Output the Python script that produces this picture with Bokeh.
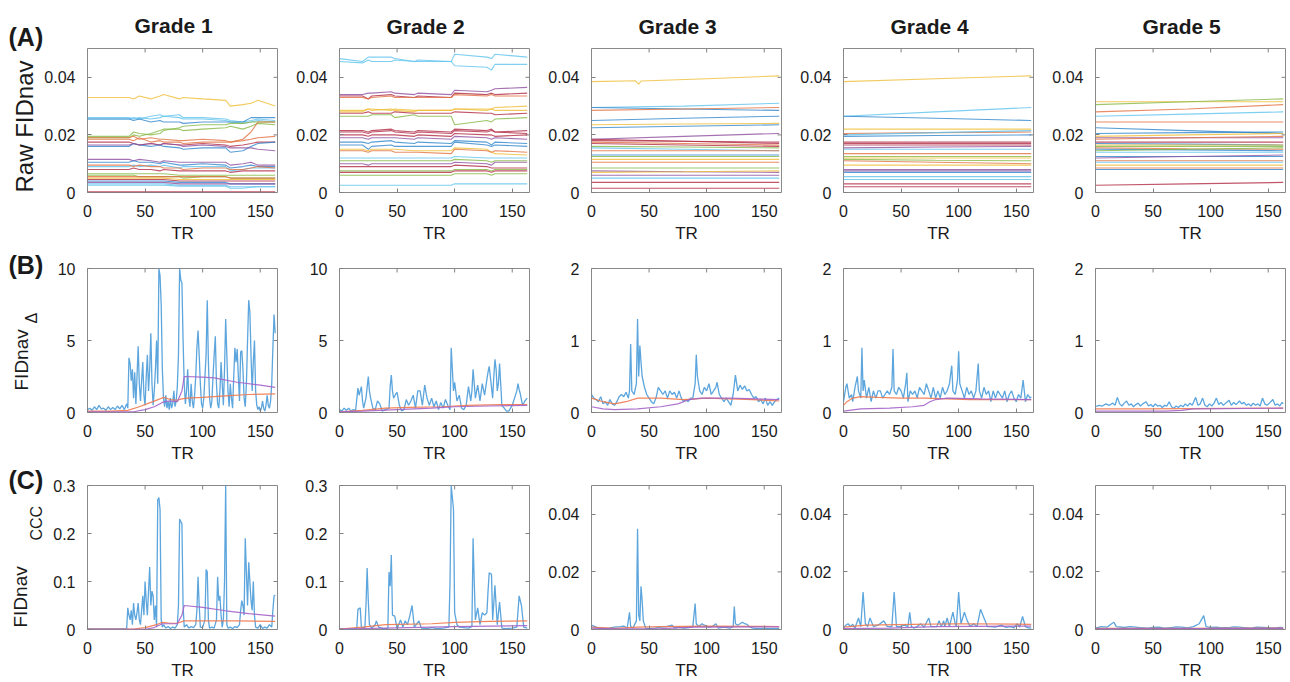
from bokeh.plotting import figure
from bokeh.layouts import gridplot
from bokeh.models import FixedTicker, CustomJSTickFormatter, Range1d, Title
from bokeh.embed import file_html
from bokeh.resources import INLINE

FONT = "Liberation Sans"
X_END = 165
GRADES = ["Grade 1", "Grade 2", "Grade 3", "Grade 4", "Grade 5"]
ROW_TAGS = ["(A)", "(B)", "(C)"]
X_TICKS = [0, 50, 100, 150]

Y_END = [[0.05] * 5, [10, 10, 2, 2, 2], [0.3, 0.3, 0.05, 0.05, 0.05]]
Y_TICKS = [
    [[0, 0.02, 0.04]] * 5,
    [[0, 5, 10], [0, 5, 10], [0, 1, 2], [0, 1, 2], [0, 1, 2]],
    [[0, 0.1, 0.2, 0.3], [0, 0.1, 0.2, 0.3], [0, 0.02, 0.04], [0, 0.02, 0.04], [0, 0.02, 0.04]],
]

PAL = {"b": "#2f86cc", "o": "#e2703f", "y": "#efbd35", "p": "#8e4f9e",
       "g": "#84b844", "c": "#5fc3ee", "r": "#b12a45"}

# ---------------- Row A : raw FIDnav (one line per channel) ----------------
A1_T = [0, 36, 40, 45, 55, 63, 66, 80, 83, 100, 120, 124, 135, 142, 148, 163]
A1_COLORS = "yccbggoorbppbcorgyrbcpcrgo"
A1_LINES = [
    [0.033, 0.033, 0.0325, 0.0335, 0.0325, 0.0335, 0.034, 0.0325, 0.033, 0.0325, 0.032, 0.030, 0.0305, 0.031, 0.032, 0.030],
    [0.0255, 0.0255, 0.026, 0.0255, 0.0265, 0.027, 0.0265, 0.027, 0.026, 0.026, 0.0255, 0.025, 0.0245, 0.025, 0.0255, 0.025],
    [0.026, 0.026, 0.0255, 0.026, 0.0255, 0.026, 0.0265, 0.026, 0.0255, 0.0255, 0.025, 0.0245, 0.024, 0.0245, 0.025, 0.0245],
    [0.0255, 0.0255, 0.025, 0.0255, 0.0245, 0.025, 0.0245, 0.0245, 0.024, 0.0245, 0.0245, 0.0245, 0.0245, 0.026, 0.026, 0.026],
    [0.0195, 0.0195, 0.021, 0.0205, 0.020, 0.0205, 0.0215, 0.0225, 0.023, 0.0235, 0.0235, 0.024, 0.024, 0.0245, 0.0245, 0.0245],
    [0.019, 0.019, 0.020, 0.0195, 0.0205, 0.0215, 0.022, 0.022, 0.0215, 0.022, 0.0225, 0.023, 0.022, 0.023, 0.024, 0.0235],
    [0.019, 0.019, 0.0195, 0.0185, 0.019, 0.0185, 0.0185, 0.018, 0.018, 0.0185, 0.018, 0.0175, 0.0185, 0.021, 0.0245, 0.0245],
    [0.0185, 0.0185, 0.018, 0.019, 0.0175, 0.018, 0.0175, 0.0175, 0.017, 0.0175, 0.0175, 0.0175, 0.018, 0.0185, 0.019, 0.0195],
    [0.0175, 0.0175, 0.017, 0.0165, 0.017, 0.0165, 0.017, 0.0165, 0.0165, 0.017, 0.0165, 0.016, 0.0165, 0.017, 0.0175, 0.0175],
    [0.016, 0.016, 0.017, 0.0165, 0.016, 0.0165, 0.016, 0.0155, 0.015, 0.0155, 0.0155, 0.014, 0.0145, 0.016, 0.017, 0.0175],
    [0.0165, 0.0165, 0.017, 0.0165, 0.017, 0.0165, 0.017, 0.0165, 0.016, 0.0165, 0.016, 0.0155, 0.0155, 0.0155, 0.015, 0.0145],
    [0.0115, 0.0115, 0.011, 0.0115, 0.011, 0.0105, 0.011, 0.0105, 0.0105, 0.0105, 0.0105, 0.0095, 0.010, 0.0105, 0.0095, 0.0095],
    [0.0105, 0.0105, 0.011, 0.0105, 0.0105, 0.010, 0.0105, 0.0095, 0.0095, 0.010, 0.0095, 0.0085, 0.009, 0.0095, 0.009, 0.009],
    [0.009, 0.009, 0.0095, 0.009, 0.0095, 0.009, 0.0095, 0.0085, 0.009, 0.009, 0.009, 0.0075, 0.008, 0.0085, 0.0085, 0.0085],
    [0.0095, 0.0095, 0.009, 0.0095, 0.009, 0.009, 0.0085, 0.0085, 0.008, 0.0085, 0.0085, 0.008, 0.008, 0.0085, 0.009, 0.0085],
    [0.008, 0.008, 0.0085, 0.008, 0.008, 0.0075, 0.008, 0.0075, 0.0075, 0.0075, 0.0075, 0.007, 0.0075, 0.0075, 0.0075, 0.0075],
    [0.006, 0.006, 0.006, 0.0055, 0.0055, 0.0055, 0.0055, 0.0055, 0.005, 0.0055, 0.0055, 0.005, 0.005, 0.005, 0.005, 0.005],
    [0.005, 0.005, 0.005, 0.005, 0.005, 0.005, 0.005, 0.0045, 0.0045, 0.0045, 0.0045, 0.0045, 0.0045, 0.0045, 0.0045, 0.0045],
    [0.0045, 0.0045, 0.0045, 0.0045, 0.0045, 0.0045, 0.0045, 0.004, 0.004, 0.004, 0.004, 0.004, 0.004, 0.004, 0.004, 0.004],
    [0.004, 0.004, 0.004, 0.004, 0.004, 0.004, 0.004, 0.0035, 0.0035, 0.0035, 0.0035, 0.003, 0.003, 0.003, 0.003, 0.003],
    [0.003, 0.003, 0.003, 0.003, 0.003, 0.003, 0.003, 0.0025, 0.0025, 0.0025, 0.0025, 0.002, 0.002, 0.002, 0.002, 0.002],
    [0.0035, 0.0035, 0.0035, 0.0035, 0.0035, 0.0035, 0.0035, 0.003, 0.003, 0.003, 0.003, 0.003, 0.003, 0.003, 0.003, 0.003],
    [0.0025, 0.0025, 0.0025, 0.0025, 0.0025, 0.0025, 0.0025, 0.0022, 0.0022, 0.0022, 0.0022, 0.0015, 0.0015, 0.0018, 0.002, 0.002],
    [0.0002, 0.0002, 0.0002, 0.0002, 0.0002, 0.0002, 0.0002, 0.0002, 0.0002, 0.0002, 0.0002, 0.0002, 0.0002, 0.0002, 0.0002, 0.0002],
    [0.0065, 0.0065, 0.0065, 0.0065, 0.0065, 0.0065, 0.0065, 0.006, 0.006, 0.006, 0.006, 0.006, 0.006, 0.006, 0.006, 0.006],
    [0.0055, 0.0055, 0.0055, 0.0055, 0.0055, 0.0055, 0.0055, 0.0055, 0.0055, 0.0055, 0.0055, 0.005, 0.005, 0.005, 0.005, 0.005],
]

A2_T = [0, 20, 25, 28, 45, 48, 65, 68, 97, 100, 128, 132, 135, 163]
A2_COLORS = "ccproyyrgrrrpbbyocgprgrgc"
A2_LINES = [
    [0.0465, 0.0455, 0.047, 0.047, 0.047, 0.0465, 0.0455, 0.046, 0.0455, 0.048, 0.047, 0.0465, 0.048, 0.047],
    [0.0455, 0.045, 0.046, 0.0455, 0.0455, 0.046, 0.0455, 0.0455, 0.0455, 0.044, 0.0435, 0.0425, 0.0445, 0.0445],
    [0.034, 0.034, 0.0345, 0.0345, 0.035, 0.0345, 0.034, 0.0345, 0.034, 0.0355, 0.035, 0.0355, 0.036, 0.0365],
    [0.0335, 0.0335, 0.0325, 0.0335, 0.034, 0.0335, 0.033, 0.0335, 0.033, 0.0345, 0.034, 0.0345, 0.034, 0.0345],
    [0.033, 0.033, 0.0325, 0.033, 0.0335, 0.033, 0.033, 0.033, 0.033, 0.034, 0.0335, 0.034, 0.0335, 0.0335],
    [0.0285, 0.0285, 0.029, 0.0285, 0.029, 0.0285, 0.028, 0.0285, 0.0285, 0.029, 0.0285, 0.029, 0.0285, 0.0285],
    [0.028, 0.028, 0.029, 0.029, 0.0285, 0.029, 0.0285, 0.0285, 0.0285, 0.029, 0.029, 0.029, 0.0295, 0.030],
    [0.0275, 0.0275, 0.028, 0.0275, 0.0275, 0.028, 0.0275, 0.0275, 0.0275, 0.028, 0.0275, 0.0275, 0.027, 0.0275],
    [0.0265, 0.0265, 0.0265, 0.027, 0.027, 0.026, 0.027, 0.0265, 0.0265, 0.0235, 0.025, 0.0245, 0.0255, 0.026],
    [0.0215, 0.0215, 0.021, 0.0215, 0.022, 0.0215, 0.021, 0.0215, 0.021, 0.022, 0.0215, 0.022, 0.021, 0.0205],
    [0.021, 0.021, 0.0205, 0.021, 0.0215, 0.021, 0.0205, 0.021, 0.0205, 0.0215, 0.021, 0.0215, 0.021, 0.0215],
    [0.020, 0.020, 0.0195, 0.020, 0.020, 0.020, 0.0195, 0.020, 0.0195, 0.0205, 0.020, 0.020, 0.0195, 0.020],
    [0.019, 0.019, 0.0185, 0.019, 0.019, 0.019, 0.0185, 0.019, 0.0185, 0.0195, 0.019, 0.0185, 0.019, 0.0185],
    [0.0175, 0.0175, 0.017, 0.0175, 0.018, 0.0175, 0.017, 0.0175, 0.017, 0.018, 0.0175, 0.0165, 0.0175, 0.017],
    [0.0165, 0.0165, 0.015, 0.016, 0.0165, 0.016, 0.016, 0.016, 0.016, 0.0175, 0.0165, 0.016, 0.0165, 0.016],
    [0.015, 0.015, 0.0145, 0.015, 0.015, 0.015, 0.0145, 0.0145, 0.0145, 0.0155, 0.015, 0.014, 0.0135, 0.013],
    [0.0145, 0.0145, 0.014, 0.0145, 0.0145, 0.014, 0.014, 0.014, 0.0135, 0.015, 0.0145, 0.014, 0.0145, 0.014],
    [0.012, 0.012, 0.012, 0.012, 0.012, 0.012, 0.012, 0.012, 0.012, 0.0125, 0.012, 0.012, 0.012, 0.012],
    [0.011, 0.011, 0.011, 0.011, 0.011, 0.011, 0.011, 0.011, 0.011, 0.0115, 0.011, 0.0105, 0.011, 0.011],
    [0.010, 0.010, 0.0095, 0.010, 0.010, 0.010, 0.010, 0.010, 0.010, 0.0105, 0.010, 0.0095, 0.0105, 0.0105],
    [0.009, 0.009, 0.009, 0.009, 0.009, 0.009, 0.009, 0.009, 0.009, 0.0095, 0.009, 0.0085, 0.0085, 0.0085],
    [0.0075, 0.0075, 0.0075, 0.0075, 0.0075, 0.0075, 0.0075, 0.0075, 0.0075, 0.008, 0.008, 0.0075, 0.008, 0.008],
    [0.007, 0.007, 0.007, 0.007, 0.007, 0.007, 0.007, 0.007, 0.007, 0.0075, 0.0075, 0.007, 0.0075, 0.0075],
    [0.006, 0.006, 0.006, 0.006, 0.006, 0.006, 0.006, 0.006, 0.006, 0.0065, 0.0065, 0.006, 0.0065, 0.0065],
    [0.0025, 0.0025, 0.0025, 0.0025, 0.0025, 0.0025, 0.0025, 0.0025, 0.0025, 0.003, 0.003, 0.003, 0.003, 0.003],
]

# rows A3-A5: nearly straight drifts, values at TR 0, 80, 163
A_T3 = [0, 80, 163]
A3_COLORS = "cbobybprrorgcobgyogpypcrr"
A3_LINES = [
    [0.0295, 0.030, 0.031], [0.0295, 0.029, 0.0285], [0.0285, 0.029, 0.0295], [0.025, 0.0258, 0.0265],
    [0.0235, 0.0238, 0.024], [0.0225, 0.023, 0.0235], [0.0185, 0.0195, 0.0205], [0.0185, 0.0178, 0.017],
    [0.018, 0.0178, 0.0175], [0.0175, 0.017, 0.0165], [0.017, 0.0165, 0.016], [0.016, 0.0158, 0.0155],
    [0.0155, 0.015, 0.0145], [0.0145, 0.0145, 0.0145], [0.013, 0.013, 0.013], [0.0125, 0.0125, 0.0125],
    [0.0115, 0.0115, 0.0115], [0.0105, 0.0105, 0.0105], [0.0085, 0.0085, 0.0085], [0.0075, 0.0072, 0.007],
    [0.007, 0.0072, 0.0075], [0.006, 0.006, 0.006], [0.005, 0.005, 0.005], [0.0035, 0.0035, 0.0035],
    [0.0015, 0.0015, 0.0015],
]
A3_YELLOW = [(0, 0.0385), (38, 0.0388), (41, 0.0376), (43, 0.0387), (100, 0.0395), (163, 0.0405)]

A4_COLORS = "ycbyocbrrrpcogygoyppbccrr"
A4_LINES = [
    [0.0385, 0.0395, 0.0405], [0.0265, 0.028, 0.0295], [0.0265, 0.0258, 0.025], [0.022, 0.022, 0.022],
    [0.0205, 0.0208, 0.021], [0.020, 0.0208, 0.0215], [0.0195, 0.0198, 0.020], [0.0175, 0.0175, 0.0175],
    [0.017, 0.017, 0.017], [0.0165, 0.0165, 0.0165], [0.0155, 0.0158, 0.016], [0.015, 0.015, 0.015],
    [0.0135, 0.0135, 0.0135], [0.0125, 0.0125, 0.0125], [0.012, 0.012, 0.012], [0.0115, 0.0112, 0.011],
    [0.011, 0.0105, 0.010], [0.0095, 0.0095, 0.0095], [0.008, 0.008, 0.008], [0.0075, 0.0075, 0.0075],
    [0.007, 0.007, 0.007], [0.0055, 0.0055, 0.0055], [0.0045, 0.0045, 0.0045], [0.003, 0.003, 0.003],
    [0.002, 0.002, 0.002],
]

A5_COLORS = "ygocobbyporbygobgcbpocybor"
A5_LINES = [
    [0.0315, 0.0315, 0.0315], [0.0305, 0.0315, 0.0325], [0.028, 0.029, 0.0305], [0.0265, 0.0272, 0.028],
    [0.0245, 0.0245, 0.0245], [0.0225, 0.0215, 0.0205], [0.0205, 0.0208, 0.021], [0.0195, 0.020, 0.0205],
    [0.019, 0.019, 0.019], [0.0185, 0.019, 0.0195], [0.0175, 0.0175, 0.0175], [0.017, 0.0168, 0.0165],
    [0.0165, 0.0165, 0.0165], [0.016, 0.016, 0.016], [0.0155, 0.0152, 0.015], [0.015, 0.0148, 0.0145],
    [0.0145, 0.015, 0.0155], [0.014, 0.014, 0.014], [0.0125, 0.0125, 0.0125], [0.012, 0.0125, 0.013],
    [0.011, 0.011, 0.011], [0.0105, 0.0105, 0.0105], [0.0095, 0.0095, 0.0095], [0.008, 0.008, 0.008],
    [0.0085, 0.0085, 0.0085], [0.0025, 0.003, 0.0035],
]

# ---------------- Row B : FIDnav delta ----------------
B1_BLUE = [(0,0.2),(2,0.3),(4,0.15),(6,0.4),(8,0.2),(10,0.5),(12,0.25),(14,0.3),(16,0.15),(18,0.4),(20,0.2),(22,0.35),(24,0.2),(26,0.45),(28,0.25),(30,0.5),(32,0.2),(34,0.6),(35,0.3),(36,3.8),(37,3.4),(38,2.2),(39,3.0),(40,1.0),(41,2.8),(42,0.6),(43,2.5),(44,4.6),(45,2.0),(46,0.8),(47,2.2),(48,3.5),(49,1.2),(50,0.5),(51,2.5),(52,4.0),(53,1.5),(54,3.0),(55,5.5),(56,2.0),(57,0.5),(58,1.5),(59,3.0),(60,5.0),(61,2.0),(62,10.0),(63,9.5),(64,7.5),(65,3.0),(66,1.0),(67,0.4),(68,1.2),(69,0.3),(70,0.8),(71,0.2),(72,1.0),(73,0.3),(74,0.6),(75,1.5),(76,0.4),(77,0.8),(78,1.8),(79,4.0),(80,10.0),(81,9.2),(82,9.0),(83,5.0),(84,2.0),(85,0.6),(86,1.5),(87,3.0),(88,1.0),(89,0.4),(90,2.0),(91,0.8),(92,0.3),(93,1.2),(94,2.5),(95,4.5),(96,5.7),(97,4.0),(98,2.0),(99,0.6),(100,0.3),(101,1.0),(102,2.5),(103,4.0),(104,7.8),(105,3.5),(106,1.0),(107,0.3),(108,0.8),(109,2.5),(110,4.0),(111,5.3),(112,2.0),(113,0.6),(114,0.3),(115,1.5),(116,3.5),(117,2.0),(118,0.5),(119,3.0),(120,6.5),(121,4.0),(122,1.5),(123,0.4),(124,2.0),(125,1.0),(126,0.3),(127,2.5),(128,4.5),(129,3.5),(130,4.4),(131,2.5),(132,0.8),(133,4.2),(134,4.3),(135,3.0),(136,1.0),(137,0.4),(138,2.0),(139,5.0),(140,7.8),(141,7.0),(142,4.0),(143,1.5),(144,3.5),(145,5.0),(146,1.5),(147,0.5),(148,0.2),(149,0.4),(150,0.1),(151,0.3),(152,0.8),(153,0.3),(154,0.1),(155,0.5),(156,1.2),(157,0.5),(158,0.3),(159,0.8),(160,2.0),(161,4.5),(162,6.8),(163,5.5)]
B1_ORANGE = [(0,0.1),(20,0.1),(35,0.15),(45,0.4),(55,0.7),(63,0.95),(66,1.05),(72,0.9),(78,0.85),(82,0.95),(86,1.0),(100,1.05),(120,1.15),(140,1.25),(163,1.3)]
B1_PURPLE = [(0,0.05),(40,0.05),(50,0.2),(58,0.4),(65,0.7),(70,0.8),(78,0.75),(82,1.5),(84,2.5),(100,2.45),(110,2.4),(130,2.1),(150,1.9),(163,1.75)]

B2_BLUE = [(0,0.2),(2,0.1),(4,0.3),(6,0.15),(8,0.3),(10,0.1),(12,0.2),(14,0.15),(16,1.7),(17,1.2),(18,1.5),(19,1.8),(20,0.8),(21,0.3),(23,1.0),(25,2.5),(26,1.5),(27,1.0),(29,0.3),(31,0.2),(33,0.8),(35,0.6),(37,0.1),(40,0.2),(43,0.3),(44,1.8),(45,2.6),(46,1.5),(47,1.0),(49,1.3),(50,1.4),(52,0.5),(54,0.1),(56,0.2),(58,0.9),(60,0.5),(62,0.8),(64,1.2),(66,0.3),(68,1.5),(70,1.5),(72,0.5),(74,1.9),(76,1.0),(78,0.5),(80,1.0),(82,0.4),(84,0.8),(86,0.2),(88,0.7),(90,0.3),(92,0.9),(94,0.5),(96,0.2),(97,4.5),(98,3.0),(99,1.5),(100,2.1),(102,0.8),(104,1.2),(106,0.3),(108,0.2),(110,0.5),(112,1.8),(114,0.8),(115,1.5),(116,3.0),(117,2.0),(118,1.0),(120,1.9),(122,0.8),(124,2.0),(126,1.2),(128,2.3),(129,2.8),(130,3.2),(131,2.5),(133,1.0),(134,2.5),(135,3.7),(136,3.0),(137,1.5),(138,2.0),(139,3.4),(140,2.0),(141,0.5),(143,0.3),(145,0.1),(147,0.1),(150,0.5),(152,1.0),(154,1.5),(155,2.0),(156,1.6),(157,1.3),(159,0.5),(161,0.8),(163,1.0)]
B2_ORANGE = [(0,0.05),(20,0.15),(40,0.3),(60,0.35),(90,0.4),(110,0.5),(140,0.55),(163,0.55)]
B2_PURPLE = [(0,0.05),(20,0.1),(50,0.2),(80,0.3),(100,0.4),(130,0.45),(163,0.5)]

B3_BLUE = [(0,0.25),(2,0.2),(4,0.18),(6,0.15),(8,0.22),(10,0.12),(12,0.15),(14,0.1),(16,0.18),(18,0.12),(20,0.1),(22,0.15),(24,0.22),(26,0.25),(28,0.22),(30,0.28),(32,0.2),(33,0.3),(34,0.95),(35,0.3),(37,0.25),(39,0.4),(40,1.3),(41,0.5),(42,0.93),(43,0.7),(44,0.5),(46,0.35),(48,0.25),(50,0.2),(52,0.15),(54,0.12),(56,0.2),(58,0.35),(60,0.3),(62,0.25),(64,0.3),(66,0.2),(68,0.3),(70,0.25),(72,0.28),(74,0.2),(76,0.3),(78,0.2),(80,0.15),(82,0.18),(84,0.15),(86,0.2),(88,0.2),(90,0.4),(91,0.8),(92,0.5),(94,0.3),(96,0.25),(98,0.35),(100,0.3),(102,0.4),(104,0.25),(106,0.3),(108,0.35),(109,0.42),(111,0.25),(113,0.2),(115,0.15),(117,0.2),(119,0.15),(121,0.1),(123,0.25),(125,0.52),(127,0.3),(129,0.38),(131,0.32),(133,0.37),(135,0.3),(137,0.32),(139,0.25),(141,0.2),(143,0.22),(145,0.15),(147,0.18),(149,0.12),(151,0.2),(153,0.1),(155,0.15),(157,0.1),(159,0.15),(161,0.18),(163,0.2)]
B3_ORANGE = [(0,0.2),(10,0.15),(20,0.12),(30,0.15),(40,0.2),(60,0.2),(80,0.18),(100,0.2),(120,0.19),(140,0.18),(163,0.16)]
B3_PURPLE = [(0,0.08),(10,0.05),(20,0.04),(40,0.05),(60,0.08),(75,0.12),(85,0.18),(95,0.2),(120,0.2),(163,0.18)]

B4_BLUE = [(0,0.15),(2,0.35),(3,0.4),(5,0.2),(7,0.25),(8,0.15),(10,0.35),(12,0.5),(13,0.3),(15,0.2),(16,0.9),(17,0.3),(18,0.45),(20,0.2),(22,0.35),(24,0.15),(26,0.3),(28,0.2),(30,0.3),(32,0.3),(34,0.2),(36,0.25),(38,0.3),(40,0.25),(42,0.35),(43,0.88),(44,0.3),(46,0.25),(48,0.35),(50,0.3),(52,0.2),(54,0.4),(55,0.55),(56,0.15),(58,0.3),(60,0.25),(62,0.3),(64,0.2),(66,0.35),(68,0.3),(70,0.25),(72,0.4),(74,0.3),(76,0.2),(78,0.35),(80,0.2),(82,0.3),(84,0.2),(86,0.35),(88,0.25),(90,0.3),(92,0.4),(94,0.65),(95,0.3),(97,0.25),(99,0.45),(100,0.85),(101,0.4),(103,0.3),(105,0.2),(107,0.35),(109,0.25),(111,0.3),(113,0.2),(115,0.3),(117,0.68),(118,0.3),(120,0.2),(122,0.35),(124,0.25),(126,0.3),(128,0.15),(130,0.3),(132,0.2),(134,0.3),(136,0.25),(138,0.2),(140,0.3),(142,0.15),(144,0.25),(146,0.3),(148,0.2),(150,0.15),(152,0.25),(154,0.2),(156,0.45),(158,0.15),(160,0.25),(162,0.2),(163,0.22)]
B4_ORANGE = [(0,0.1),(3,0.15),(8,0.2),(15,0.22),(30,0.21),(50,0.2),(70,0.2),(90,0.19),(110,0.18),(163,0.18)]
B4_PURPLE = [(0,0.02),(5,0.03),(15,0.05),(40,0.06),(60,0.08),(70,0.1),(75,0.15),(80,0.18),(90,0.2),(120,0.19),(163,0.18)]

B5_BLUE = [(0,0.08),(3,0.1),(6,0.09),(9,0.12),(12,0.1),(15,0.13),(17,0.1),(19,0.21),(21,0.12),(23,0.09),(25,0.13),(27,0.16),(29,0.1),(31,0.12),(33,0.08),(35,0.11),(37,0.13),(39,0.09),(41,0.12),(44,0.15),(46,0.09),(48,0.11),(50,0.08),(52,0.12),(54,0.09),(56,0.1),(58,0.07),(60,0.1),(62,0.09),(64,0.15),(66,0.08),(68,0.06),(70,0.09),(72,0.07),(74,0.1),(76,0.08),(78,0.12),(80,0.09),(82,0.13),(84,0.1),(87,0.21),(89,0.1),(91,0.12),(93,0.2),(95,0.1),(97,0.08),(99,0.12),(101,0.09),(103,0.13),(105,0.2),(107,0.11),(109,0.14),(111,0.1),(113,0.13),(116,0.17),(118,0.1),(120,0.14),(122,0.11),(125,0.16),(127,0.12),(129,0.14),(131,0.1),(133,0.12),(135,0.09),(137,0.13),(139,0.1),(141,0.12),(143,0.09),(145,0.2),(147,0.12),(149,0.1),(151,0.13),(154,0.18),(156,0.1),(158,0.12),(160,0.09),(162,0.14),(163,0.12)]
B5_ORANGE = [(0,0.05),(40,0.05),(80,0.055),(163,0.06)]
B5_PURPLE = [(0,0.02),(60,0.02),(75,0.03),(85,0.05),(163,0.06)]

# ---------------- Row C : FIDnav CCC ----------------
C1_BLUE = [(0,0.001),(10,0.001),(20,0.0015),(30,0.001),(34,0.001),(35,0.045),(36,0.03),(37,0.02),(38,0.04),(39,0.01),(40,0.055),(41,0.03),(42,0.02),(43,0.035),(44,0.055),(45,0.02),(46,0.01),(47,0.04),(48,0.07),(49,0.03),(50,0.1),(51,0.06),(52,0.03),(53,0.08),(54,0.13),(55,0.05),(56,0.08),(57,0.07),(58,0.02),(59,0.05),(60,0.005),(61,0.27),(62,0.275),(63,0.25),(64,0.02),(65,0.005),(66,0.01),(68,0.003),(70,0.006),(72,0.002),(74,0.005),(76,0.003),(78,0.01),(79,0.05),(80,0.23),(81,0.225),(82,0.22),(83,0.05),(84,0.005),(86,0.01),(88,0.003),(90,0.006),(92,0.004),(94,0.01),(95,0.04),(96,0.11),(97,0.05),(98,0.005),(100,0.004),(102,0.02),(103,0.125),(104,0.12),(105,0.02),(106,0.003),(108,0.005),(110,0.003),(112,0.02),(113,0.11),(114,0.06),(115,0.07),(116,0.03),(117,0.005),(118,0.02),(119,0.1),(120,0.3),(121,0.01),(122,0.003),(124,0.005),(126,0.002),(128,0.006),(130,0.004),(132,0.01),(133,0.04),(134,0.06),(135,0.05),(136,0.03),(137,0.19),(138,0.12),(139,0.05),(140,0.14),(141,0.1),(142,0.06),(143,0.04),(144,0.1),(145,0.03),(146,0.005),(148,0.003),(150,0.01),(152,0.002),(154,0.005),(156,0.003),(158,0.01),(160,0.005),(161,0.04),(162,0.07),(163,0.072)]
C1_ORANGE = [(0,0.001),(40,0.001),(50,0.004),(60,0.01),(65,0.015),(72,0.013),(78,0.013),(84,0.018),(100,0.018),(130,0.018),(163,0.017)]
C1_PURPLE = [(0,0.0005),(50,0.0005),(58,0.004),(65,0.012),(78,0.012),(82,0.03),(84,0.05),(100,0.046),(120,0.039),(140,0.033),(163,0.028)]

C2_BLUE = [(0,0.001),(8,0.001),(15,0.002),(16,0.042),(18,0.045),(19,0.005),(22,0.003),(23,0.05),(24,0.128),(25,0.06),(26,0.01),(28,0.003),(31,0.01),(32,0.018),(34,0.005),(38,0.002),(42,0.002),(43,0.12),(44,0.09),(45,0.155),(46,0.03),(48,0.028),(50,0.002),(53,0.02),(55,0.005),(57,0.018),(59,0.01),(61,0.028),(63,0.05),(65,0.005),(69,0.018),(71,0.003),(76,0.002),(80,0.004),(85,0.002),(90,0.003),(95,0.005),(96,0.1),(97,0.3),(99,0.25),(100,0.035),(102,0.01),(104,0.005),(108,0.004),(112,0.003),(115,0.006),(116,0.19),(117,0.1),(118,0.02),(120,0.045),(122,0.01),(124,0.035),(126,0.03),(128,0.035),(129,0.08),(130,0.118),(132,0.115),(133,0.02),(135,0.092),(136,0.05),(137,0.01),(139,0.057),(141,0.003),(145,0.002),(150,0.003),(154,0.005),(156,0.07),(158,0.05),(160,0.005),(163,0.003)]
C2_ORANGE = [(0,0.001),(20,0.005),(40,0.01),(80,0.012),(100,0.015),(130,0.017),(163,0.018)]
C2_PURPLE = [(0,0.001),(40,0.003),(100,0.006),(163,0.008)]

C3_BLUE = [(0,0.0015),(2,0.0012),(4,0.0008),(6,0.0005),(10,0.0003),(15,0.0005),(20,0.0008),(25,0.001),(28,0.0012),(31,0.0005),(33,0.006),(34,0.001),(36,0.0005),(39,0.003),(40,0.035),(41,0.005),(42,0.003),(43,0.015),(44,0.01),(45,0.003),(47,0.0005),(50,0.0003),(55,0.0005),(60,0.0008),(65,0.001),(70,0.0015),(72,0.0005),(76,0.0008),(80,0.0005),(85,0.0007),(88,0.001),(90,0.009),(91,0.002),(93,0.001),(96,0.002),(98,0.0015),(102,0.0008),(105,0.001),(108,0.002),(110,0.0005),(115,0.0008),(120,0.0005),(123,0.001),(124,0.008),(125,0.002),(127,0.0015),(129,0.002),(131,0.0025),(133,0.002),(135,0.0018),(137,0.001),(140,0.0005),(145,0.0003),(150,0.0004),(155,0.0003),(160,0.0003),(163,0.0003)]
C3_ORANGE = [(0,0.0008),(20,0.0004),(40,0.0008),(60,0.001),(100,0.0012),(140,0.0011),(163,0.001)]
C3_PURPLE = [(0,0.0005),(20,0.0002),(60,0.0003),(90,0.0008),(163,0.0009)]

C4_BLUE = [(0,0.0005),(2,0.0015),(4,0.002),(6,0.001),(8,0.0018),(10,0.0005),(13,0.004),(15,0.001),(17,0.013),(19,0.002),(21,0.001),(23,0.004),(26,0.001),(30,0.0015),(35,0.003),(38,0.001),(42,0.001),(44,0.013),(46,0.001),(49,0.001),(53,0.0015),(56,0.001),(57.5,0.006),(59,0.001),(61,0.0005),(64,0.001),(67,0.002),(70,0.0008),(74,0.004),(76,0.001),(78.5,0.001),(81,0.001),(83,0.003),(85,0.001),(87,0.003),(88,0.001),(90,0.004),(92,0.001),(95,0.006),(97,0.002),(98,0.001),(100,0.013),(102,0.002),(105,0.006),(107.5,0.003),(110,0.001),(113,0.002),(116,0.001),(119,0.007),(122,0.004),(125,0.001),(128,0.001),(132,0.0008),(137,0.0015),(141,0.0007),(145,0.001),(148,0.0006),(151,0.002),(153,0.0008),(155.5,0.0045),(158,0.001),(160,0.0006),(163,0.0005)]
C4_ORANGE = [(0,0.0008),(20,0.0015),(60,0.0018),(100,0.002),(163,0.0018)]
C4_PURPLE = [(0,0.0003),(40,0.0005),(80,0.001),(163,0.0012)]

C5_BLUE = [(0,0.0005),(5,0.001),(10,0.0008),(14,0.002),(16,0.0025),(18,0.001),(25,0.0007),(30,0.001),(35,0.0008),(40,0.0006),(45,0.0005),(50,0.0007),(55,0.0008),(60,0.0005),(65,0.0006),(70,0.0009),(75,0.0008),(80,0.0006),(85,0.001),(90,0.002),(94,0.0048),(96,0.001),(100,0.0007),(105,0.0008),(110,0.0006),(115,0.0006),(120,0.0009),(125,0.0008),(130,0.0006),(135,0.0005),(140,0.0008),(145,0.0007),(150,0.0006),(155,0.0005),(160,0.0007),(163,0.0006)]
C5_ORANGE = [(0,0.0004),(80,0.0004),(163,0.0005)]
C5_PURPLE = [(0,0.0002),(80,0.0003),(163,0.0004)]

ROW_B = [(B1_BLUE, B1_ORANGE, B1_PURPLE), (B2_BLUE, B2_ORANGE, B2_PURPLE), (B3_BLUE, B3_ORANGE, B3_PURPLE),
         (B4_BLUE, B4_ORANGE, B4_PURPLE), (B5_BLUE, B5_ORANGE, B5_PURPLE)]
ROW_C = [(C1_BLUE, C1_ORANGE, C1_PURPLE), (C2_BLUE, C2_ORANGE, C2_PURPLE), (C3_BLUE, C3_ORANGE, C3_PURPLE),
         (C4_BLUE, C4_ORANGE, C4_PURPLE), (C5_BLUE, C5_ORANGE, C5_PURPLE)]

# ---------------- styling / layout ----------------
FRAME_W, FRAME_H = 190, 144
TOPS = [48, 23, 20]
BOTTOMS = [53, 53, 53]
TICK_C = "#808080"
TEXT_C = "#1a1a1a"
BLUE_C, ORANGE_C, PURPLE_C = "#4a9bd9", "#f0784c", "#a463c9"

fmt = CustomJSTickFormatter(code="return String(Math.round(tick*1000)/1000);")


def style_axis(ax):
    ax.axis_line_color = None
    ax.major_tick_in = 4
    ax.major_tick_out = 0
    ax.major_tick_line_color = TICK_C
    ax.minor_tick_line_color = None
    ax.major_label_text_font = FONT
    ax.major_label_text_color = TEXT_C
    ax.major_label_text_font_size = "16px"
    ax.major_label_standoff = 12
    ax.axis_label_text_font = FONT
    ax.axis_label_text_font_style = "normal"
    ax.axis_label_text_font_size = "17px"
    ax.axis_label_text_color = TEXT_C
    ax.axis_label_standoff = 4


def make_fig(r, c):
    y_end = Y_END[r][c]
    p = figure(frame_width=FRAME_W, frame_height=FRAME_H,
               x_range=Range1d(0, X_END), y_range=Range1d(0, y_end),
               output_backend="svg", toolbar_location=None, title_location=None,
               min_border_left=87 if c == 0 else 60, min_border_right=2,
               min_border_top=TOPS[r], min_border_bottom=BOTTOMS[r],
               background_fill_color="white", border_fill_color="white",
               outline_line_color="#8a8a8a", outline_line_width=1)
    p.grid.visible = False
    p.xaxis.ticker = FixedTicker(ticks=X_TICKS)
    p.yaxis.ticker = FixedTicker(ticks=Y_TICKS[r][c])
    p.yaxis.formatter = fmt
    p.xaxis.axis_label = "TR"
    style_axis(p.xaxis[0])
    style_axis(p.yaxis[0])
    # inward tick marks on the top and right edges of the box (from the tick lists)
    yt = Y_TICKS[r][c]
    p.segment(x0=X_TICKS, y0=[y_end] * len(X_TICKS), x1=X_TICKS,
              y1=[y_end * (1 - 4 / FRAME_H)] * len(X_TICKS), line_color=TICK_C, line_width=1)
    p.segment(x0=[X_END] * len(yt), y0=yt, x1=[X_END * (1 - 4 / FRAME_W)] * len(yt), y1=yt,
              line_color=TICK_C, line_width=1)
    return p


def title(p, text, place, size, bold=False, align="center", offset=0, standoff=0, valign="bottom"):
    p.add_layout(Title(text=text, align=align, offset=offset, standoff=standoff, vertical_align=valign,
                       text_font=FONT, text_font_size=size,
                       text_font_style="bold" if bold else "normal", text_color=TEXT_C), place)


A_DATA = [(A1_T, A1_LINES, A1_COLORS), (A2_T, A2_LINES, A2_COLORS), (A_T3, A3_LINES, A3_COLORS),
          (A_T3, A4_LINES, A4_COLORS), (A_T3, A5_LINES, A5_COLORS)]

rows = []
figs = []
for c in range(5):
    p = make_fig(0, c)
    T, lines, cols = A_DATA[c]
    for k, vals in enumerate(lines):
        p.line(T, vals, line_color=PAL[cols[k % len(cols)]], line_width=1.1, line_alpha=0.8)
    if c == 2:
        xs, ys = zip(*A3_YELLOW)
        p.line(list(xs), list(ys), line_color=PAL["y"], line_width=1.1, line_alpha=0.8)
    if c == 0:
        title(p, ROW_TAGS[0], "above", "25px", bold=True, align="left", offset=-79, standoff=-5)
        title(p, GRADES[c], "above", "21px", bold=True, align="left", offset=47, standoff=-27)
    else:
        title(p, GRADES[c], "above", "21px", bold=True, align="left", offset=47, standoff=22)
    figs.append(p)
rows.append(figs)

for r, data in ((1, ROW_B), (2, ROW_C)):
    figs = []
    for c in range(5):
        p = make_fig(r, c)
        blue, orange, purple = data[c]
        for series, color, w in ((blue, BLUE_C, 1.3), (orange, ORANGE_C, 1.2), (purple, PURPLE_C, 1.2)):
            xs, ys = zip(*series)
            p.line(list(xs), list(ys), line_color=color, line_width=w, line_alpha=0.9)
        figs.append(p)
    rows.append(figs)

# row tags for B and C
title(rows[1][0], ROW_TAGS[1], "above", "25px", bold=True, align="left", offset=-79, standoff=-20)
title(rows[2][0], ROW_TAGS[2], "above", "25px", bold=True, align="left", offset=-79, standoff=-17)

# y-axis labels (first column), written as side titles so subscripts can sit beside them
title(rows[0][0], "Raw FIDnav", "left", "24px", align="left", offset=0, standoff=7)
title(rows[1][0], "\u0394", "left", "16px", align="left", offset=89, standoff=30)
title(rows[1][0], "FIDnav", "left", "19px", align="left", offset=22, standoff=-52)
title(rows[2][0], "CCC", "left", "16px", align="left", offset=89, standoff=11)
title(rows[2][0], "FIDnav", "left", "19px", align="left", offset=2, standoff=-20)

grid = gridplot(rows, toolbar_location=None)
open("out.html", "w").write(file_html(grid, INLINE))
